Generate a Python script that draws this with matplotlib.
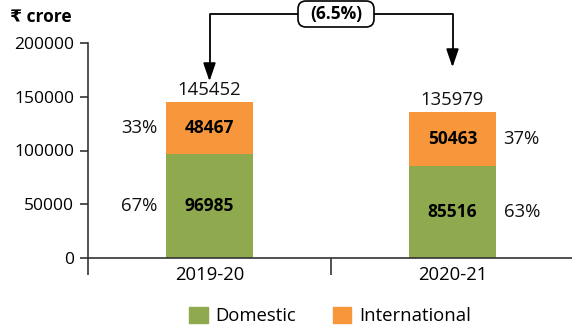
import matplotlib
matplotlib.use("Agg")
import matplotlib.pyplot as plt
from matplotlib.patches import Patch, FancyBboxPatch
from matplotlib.transforms import IdentityTransform

plt.rcParams['font.family'] = ['Open Sans', 'DejaVu Sans']

years = ["2019-20", "2020-21"]
domestic = [96985, 85516]
international = [48467, 50463]
totals = [145452, 135979]
change_label = "(6.5%)"
yticks = [0, 50000, 100000, 150000, 200000]

GREEN = "#8FAA4E"
ORANGE = "#F7963A"
FS = 12.5
FS2 = 13.3

fig = plt.figure(figsize=(5.72, 3.28), dpi=100)
ax = fig.add_axes([88/572, 70/328, (574-88)/572, 215/328])

x = list(range(len(years)))
w = 0.358
ax.bar(x, domestic, width=w, color=GREEN, zorder=2)
ax.bar(x, international, width=w, bottom=domestic, color=ORANGE, zorder=2)

ax.set_xlim(-0.5, 1.5)
ax.set_ylim(0, 200000)
ax.set_yticks(yticks)
ax.set_yticklabels([str(v) for v in yticks], fontsize=FS)
ax.set_xticks(x)
ax.set_xticklabels(years, fontsize=FS2)
ax.tick_params(axis='x', length=0, pad=6)
ax.set_xticks([-0.5, 0.5], minor=True)
ax.tick_params(axis='x', which='minor', length=12, width=1.2, direction='out', color='#333333')
ax.tick_params(axis='y', length=6, width=1.2, direction='out', color='#333333', pad=4)
for s in ['top', 'right']:
    ax.spines[s].set_visible(False)
for s in ['left', 'bottom']:
    ax.spines[s].set_color('#333333')
    ax.spines[s].set_linewidth(1.2)

for i in x:
    d, t, tot = domestic[i], international[i], totals[i]
    ax.text(i, d/2, f"{d}", ha='center', va='center', fontsize=FS, fontweight='bold', color='black')
    ax.text(i, d + t/2, f"{t}", ha='center', va='center', fontsize=FS, fontweight='bold', color='black')
    ax.text(i, d + t + 2500, f"{tot}", ha='center', va='bottom', fontsize=FS2, color='#111111')
    pd = round(100*d/tot)
    pt = round(100*t/tot)
    px = i - 0.29 if i == 0 else i + 0.285
    ax.text(px, d/2, f"{pd}%", ha='center', va='center', fontsize=FS2, color='#111111')
    ax.text(px, d + t/2, f"{pt}%", ha='center', va='center', fontsize=FS2, color='#111111')

# connector arrow
ytop = 227000
tips = [164500, 177500]
ax.plot([0, 0, 1, 1], [tips[0]+15000, ytop, ytop, tips[1]+15000], color='black', lw=1.3,
        clip_on=False, zorder=3)
for i in x:
    ax.annotate("", xy=(i, tips[i]), xytext=(i, tips[i]+16000), xycoords='data',
                arrowprops=dict(arrowstyle='-|>,head_length=1.1,head_width=0.38', mutation_scale=10,
                                color='black', lw=1.3, shrinkA=0, shrinkB=0),
                annotation_clip=False)
box = FancyBboxPatch((298, 328 - 27), 76, 26, boxstyle='round,pad=0,rounding_size=8',
                     fc='white', ec='black', lw=1.2, transform=IdentityTransform(), zorder=5)
fig.add_artist(box)
fig.text(336/572, 1 - 14/328, change_label, ha='center', va='center', fontsize=FS,
         fontweight='bold', zorder=6)

fig.text(10/572, 1 - 17/328, "₹ crore", ha='left', va='center', fontsize=FS, fontweight='bold')

handles = [Patch(color=GREEN, label='Domestic'), Patch(color=ORANGE, label='International')]
fig.legend(handles=handles, loc='center', bbox_to_anchor=(330/572, 1 - 316/328), ncol=2,
           frameon=False, fontsize=FS2, handlelength=1.0, handleheight=1.0,
           handletextpad=0.4, columnspacing=2.0, borderaxespad=0)

fig.savefig("out.png", dpi=100)
